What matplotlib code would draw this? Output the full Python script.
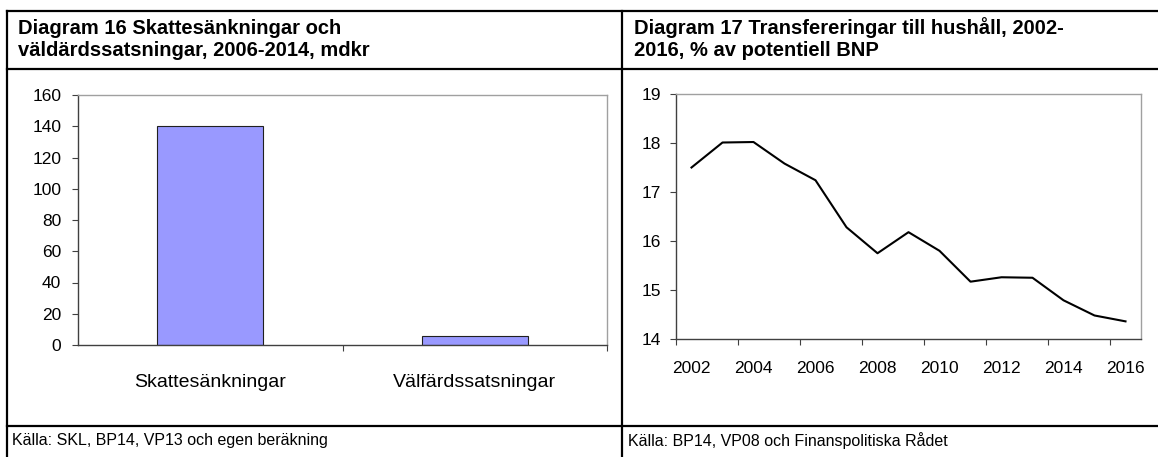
import matplotlib.pyplot as plt
from matplotlib.lines import Line2D

plt.rcParams['font.family'] = ['Liberation Sans', 'DejaVu Sans']

# data
kategorier = ['Skattesänkningar', 'Välfärdssatsningar']
mdkr = [140, 6]

ar = list(range(2002, 2017))
transfereringar = [17.50, 18.01, 18.02, 17.58, 17.24, 16.28, 15.75, 16.18,
                   15.80, 15.17, 15.26, 15.25, 14.79, 14.48, 14.36]

W, H = 1158, 457
fig = plt.figure(figsize=(W / 100, H / 100), dpi=100)


def fx(px):
    return px / W


def fy(py):
    return 1 - py / H


# ramar runt panelerna
lw = 1.6
for y in (11, 69, 426):
    fig.add_artist(Line2D([fx(7), 1], [fy(y), fy(y)], color='black', lw=lw))
for x in (7, 622):
    fig.add_artist(Line2D([fx(x), fx(x)], [fy(11), 0], color='black', lw=lw))

# rubriker och källor
fig.text(fx(18), fy(39), 'Diagram 16 Skattesänkningar och\nväldärdssatsningar, 2006-2014, mdkr',
         fontsize=14.5, fontweight='bold', va='center', linespacing=1.2)
fig.text(fx(634), fy(39), 'Diagram 17 Transfereringar till hushåll, 2002-\n2016, % av potentiell BNP',
         fontsize=14.5, fontweight='bold', va='center', linespacing=1.2)
fig.text(fx(12), fy(441), 'Källa: SKL, BP14, VP13 och egen beräkning', fontsize=11.5, va='center')
fig.text(fx(628), fy(441), 'Källa: BP14, VP08 och Finanspolitiska Rådet', fontsize=11.5, va='center')


def stil(ax):
    for s in ('top', 'right'):
        ax.spines[s].set_color('#a0a0a0')
    for s in ('left', 'bottom'):
        ax.spines[s].set_color('#404040')
    for s in ax.spines.values():
        s.set_linewidth(1.0)
    ax.tick_params(direction='out', length=4, width=0.8, color='#404040',
                   labelsize=12.5, pad=3)
    ax.tick_params(axis='y', pad=8)


# Diagram 16
ax1 = fig.add_axes([fx(78), fy(345), fx(607 - 78), (345 - 95) / H])
ax1.bar(range(len(kategorier)), mdkr, width=0.4, color='#9999ff',
        edgecolor='#202020', linewidth=0.8)
ax1.set_xlim(-0.5, len(kategorier) - 0.5)
ax1.set_ylim(0, 160)
ax1.set_yticks(range(0, 161, 20))
ax1.set_xticks([0.5, 1.5])
ax1.set_xticks(range(len(kategorier)), kategorier, minor=True)
stil(ax1)
ax1.tick_params(axis='x', which='major', labelbottom=False)
ax1.tick_params(axis='x', which='minor', length=0, pad=21, labelsize=14)

# Diagram 17
ax2 = fig.add_axes([fx(676), fy(339), fx(1141 - 676), (339 - 94) / H])
pos = list(range(len(ar)))
ax2.plot(pos, transfereringar, color='black', lw=1.5)
ax2.set_xlim(-0.5, len(ar) - 0.5)
ax2.set_ylim(14, 19)
ax2.set_yticks(range(14, 20))
ax2.set_xticks([p - 0.5 for p in pos[::2]])
ax2.set_xticks(pos[::2], [str(a) for a in ar[::2]], minor=True)
stil(ax2)
ax2.tick_params(axis='y', pad=7)
ax2.tick_params(axis='x', which='major', labelbottom=False)
ax2.tick_params(axis='x', which='minor', length=0, pad=16, labelsize=12.5)

fig.savefig('out.png', dpi=100)
